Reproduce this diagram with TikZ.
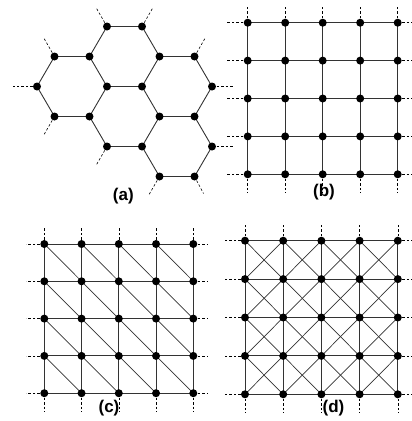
\documentclass[tikz,border=0pt]{standalone}
\usepackage{fontspec}
\setmainfont{Liberation Sans}
\begin{document}
\begin{tikzpicture}[x=1pt,y=-1pt,
  dot/.style={circle,fill=black,inner sep=0pt,minimum size=8pt},
  edge/.style={draw=black!80,line width=0.9pt},
  stub/.style={draw=black,line width=0.6pt,dash pattern=on 2.5pt off 2pt},
  lbl/.style={font=\fontsize{17}{17}\selectfont\bfseries,inner sep=0pt}]
\useasboundingbox (0,0) rectangle (412,421);
% ---------- (a) hexagonal ----------
\foreach \n/\x/\y in {1/37/86.5,2/54.5/56.5,3/89.5/56.5,4/107/26.5,5/142/26.5,6/159.5/56.5,
  7/194.5/56.5,8/212/86.5,9/194.5/116.5,10/212/146.5,11/194.5/176.5,12/159.5/176.5,
  13/142/146.5,14/107/146.5,15/89.5/116.5,16/54.5/116.5,17/107/86.5,18/142/86.5,19/159.5/116.5}
  \coordinate (v\n) at (\x,\y);
\foreach \a/\b in {1/2,2/3,3/4,4/5,5/6,6/7,7/8,8/9,9/10,10/11,11/12,12/13,13/14,14/15,15/16,16/1,
  3/17,17/18,18/6,17/15,18/19,19/9,19/13}
  \draw[edge] (v\a) -- (v\b);
\foreach \n/\dx/\dy in {4/-11/-19,5/11/-19,2/-11/-19,7/11/-19,1/-24/0,16/-11/19,14/-11/19,
  12/-11/19,11/9/17,8/22/0,10/22/0}
  \draw[stub] (v\n) -- ++(\dx,\dy);
\foreach \n in {1,...,19} \node[dot] (a\n) at (v\n) {};
\node[lbl] (la) at (123.3,196) {(a)};
% ---------- (b) square ----------
\foreach \i in {0,...,4} \foreach \j in {0,...,4}
  \coordinate (b\i\j) at (247.7+37.5*\i,22.7+37.9*\j);
\foreach \i in {0,...,4} {
  \draw[edge] (b\i0) -- (b\i4);
  \draw[edge] (b0\i) -- (b4\i);
  \draw[stub] (b\i0) -- ++(0,-16);
  \draw[stub] (b\i4) -- ++(0,19);
  \draw[stub] (b0\i) -- ++(-22,0);
  \draw[stub] (b4\i) -- ++(18,0);
}
\foreach \i in {0,...,4} \foreach \j in {0,...,4} \node[dot] (nb\i\j) at (b\i\j) {};
\node[lbl] (lb) at (324,192) {(b)};
% ---------- (c) triangular ----------
\foreach \i in {0,...,4} \foreach \j in {0,...,4}
  \coordinate (c\i\j) at (44.3+37.25*\i,244+37.3*\j);
\foreach \i in {0,...,4} {
  \draw[edge] (c\i0) -- (c\i4);
  \draw[edge] (c0\i) -- (c4\i);
  \draw[stub] (c\i0) -- ++(0,-16);
  \draw[stub] (c\i4) -- ++(0,19);
  \draw[stub] (c0\i) -- ++(-18,0);
  \draw[stub] (c4\i) -- ++(14,0);
}
\foreach \i/\k in {0/1,1/2,2/3,3/4} \foreach \j/\l in {0/1,1/2,2/3,3/4}
  \draw[edge,line width=0.7pt] (c\i\j) -- (c\k\l);
\foreach \i in {0,...,4} \foreach \j in {0,...,4} \node[dot] (nc\i\j) at (c\i\j) {};
\node[lbl] (lc) at (109,408.5) {(c)};
% ---------- (d) square with both diagonals ----------
\foreach \i in {0,...,4} \foreach \j in {0,...,4}
  \coordinate (d\i\j) at (245+38.2*\i,240.7+38.4*\j);
\foreach \i in {0,...,4} {
  \draw[edge] (d\i0) -- (d\i4);
  \draw[edge] (d0\i) -- (d4\i);
  \draw[stub] (d\i0) -- ++(0,-16);
  \draw[stub] (d\i4) -- ++(0,19);
  \draw[stub] (d0\i) -- ++(-20,0);
  \draw[stub] (d4\i) -- ++(16,0);
}
\foreach \i/\k in {0/1,1/2,2/3,3/4} \foreach \j/\l in {0/1,1/2,2/3,3/4} {
  \draw[edge,line width=0.7pt] (d\i\j) -- (d\k\l);
  \draw[edge,line width=0.7pt] (d\k\j) -- (d\i\l);
}
\foreach \i in {0,...,4} \foreach \j in {0,...,4} \node[dot] (nd\i\j) at (d\i\j) {};
\node[lbl] (ld) at (333.5,408.5) {(d)};
\end{tikzpicture}
\end{document}
